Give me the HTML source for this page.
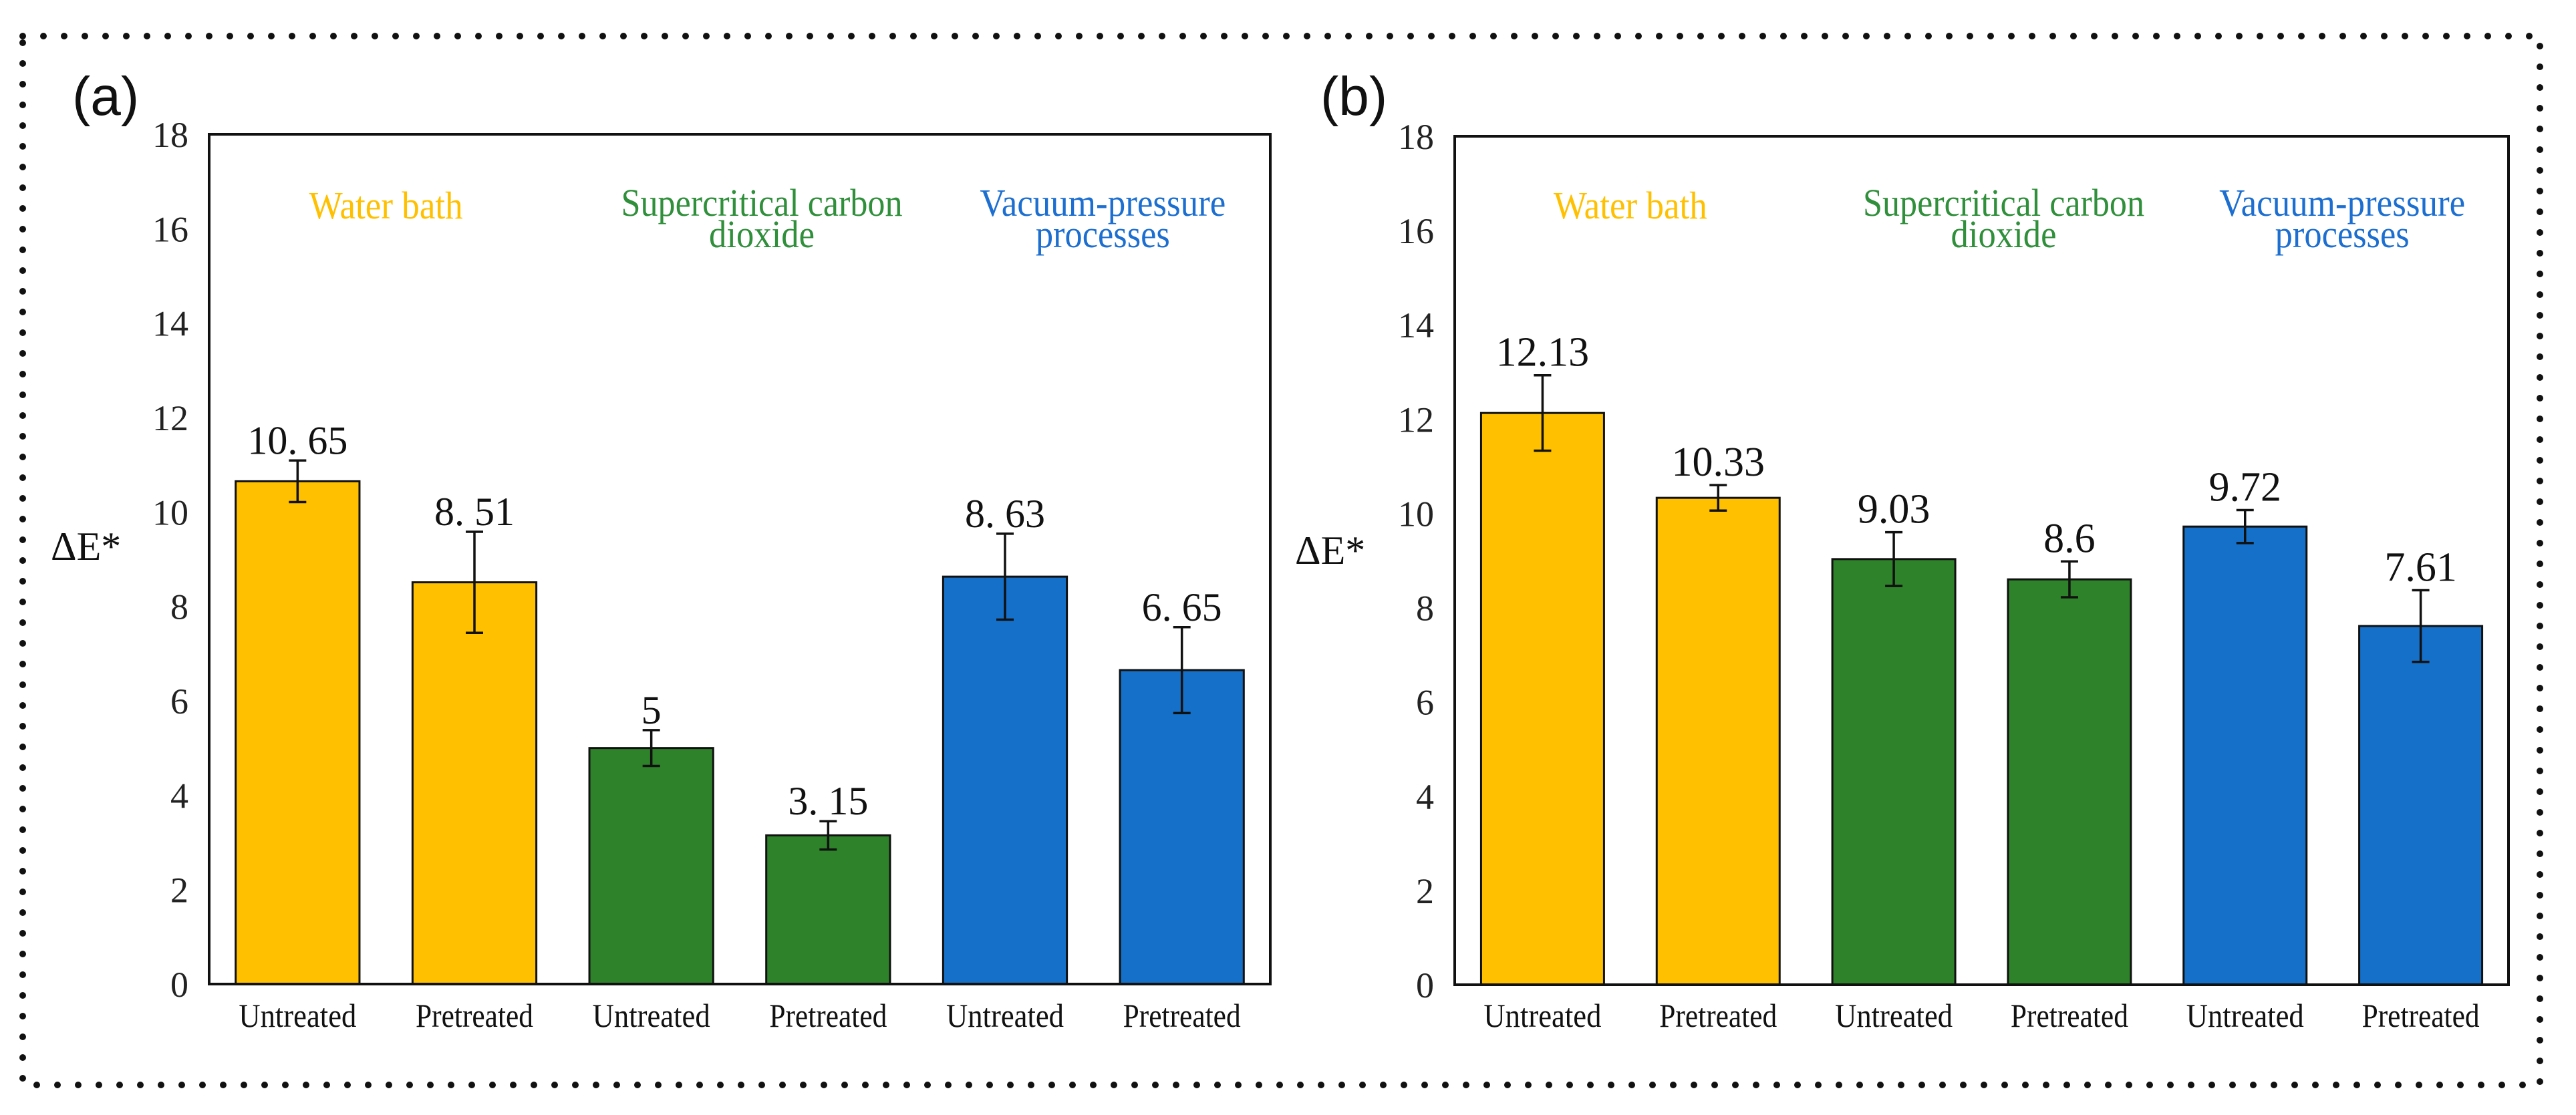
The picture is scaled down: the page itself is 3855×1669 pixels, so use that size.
<!DOCTYPE html>
<html><head><meta charset="utf-8"><style>
html,body{margin:0;padding:0;background:#fff;}
svg{display:block;font-family:"Liberation Serif",serif;}
</style></head><body>
<svg id="fig" width="3855" height="1669" viewBox="0 0 3855 1669">
<rect x="0" y="0" width="3855" height="1669" fill="#fff"/>
<rect x="34" y="54" width="3767" height="1570" fill="none" stroke="#111" stroke-width="10" stroke-linecap="round" stroke-dasharray="0 31"/>
<g id="chartA"></g>
<g id="chartB"></g>
</svg>
<script>
const categories = ["Untreated","Pretreated","Untreated","Pretreated","Untreated","Pretreated"];
const valuesA = [10.65, 8.51, 5, 3.15, 8.63, 6.65];
const errorsA = [0.44, 1.07, 0.38, 0.30, 0.91, 0.91];
const labelsA = ["10. 65","8. 51","5","3. 15","8. 63","6. 65"];
const valuesB = [12.13, 10.33, 9.03, 8.6, 9.72, 7.61];
const errorsB = [0.80, 0.27, 0.57, 0.38, 0.35, 0.76];
const labelsB = ["12.13","10.33","9.03","8.6","9.72","7.61"];
const yTicks = [0,2,4,6,8,10,12,14,16,18];
const groupNames = [["Water bath"],["Supercritical carbon","dioxide"],["Vacuum-pressure","processes"]];

const NS = "http://www.w3.org/2000/svg";
const barColors = ["#FFC000","#FFC000","#2E8229","#2E8229","#1570C9","#1570C9"];
const groupColors = ["#FFC000","#2F8F3A","#1C6FD0"];
const groupShift = [0, 33, 14];
const lineWidths = {"Water bath":230,"Supercritical carbon":421,"dioxide":158,"Vacuum-pressure":368,"processes":201};
function mk(tag, attrs, parent){const e=document.createElementNS(NS,tag);for(const k in attrs)e.setAttribute(k,attrs[k]);parent.appendChild(e);return e;}

function drawChart(g, cfg, values, errors, labels){
  const yMax = 18;
  const y = v => cfg.bottom - v*(cfg.bottom-cfg.top)/yMax;
  const catW = (cfg.right-cfg.left)/categories.length;
  const xc = i => cfg.left + catW*(i+0.5);
  const bw = catW*0.70;
  const pl = mk("text",{x:cfg.panelX,y:172,"font-size":82,"font-family":"Liberation Sans, sans-serif",fill:"#111"},g);
  pl.textContent = cfg.panel;
  
  
  const yt = mk("text",{x:cfg.yTitleX,y:cfg.yTitleY,"font-size":60,fill:"#111"},g);
  yt.textContent = "ΔE*";
  
  
  yTicks.forEach(t=>{
    const tx = mk("text",{x:cfg.tickX,y:y(t)+19,"font-size":54,"text-anchor":"end",fill:"#222"},g);
    tx.textContent = t;
    
    
  });
  values.forEach((v,i)=>{
    const r = mk("rect",{x:xc(i)-bw/2,y:y(v),width:bw,height:y(0)-y(v),fill:barColors[i],stroke:"#111","stroke-width":3},g);
    
    
    const e = errors[i];
    const eb = mk("path",{d:`M${xc(i)} ${y(v+e)}V${y(v-e)}M${xc(i)-13} ${y(v+e)}H${xc(i)+13}M${xc(i)-13} ${y(v-e)}H${xc(i)+13}`,stroke:"#111","stroke-width":3.5,fill:"none"},g);
    
    
    const vl = mk("text",{x:xc(i),y:y(v+e)-cfg.labelGap,"font-size":cfg.valFont,"text-anchor":"middle",fill:"#111"},g);
    vl.textContent = labels[i];
    
    
    const cl = mk("text",{x:xc(i),y:1537,"font-size":50,"text-anchor":"middle",textLength:176,lengthAdjust:"spacingAndGlyphs",fill:"#111"},g);
    cl.textContent = categories[i];
    
    
  });
  const fr = mk("rect",{x:cfg.left,y:cfg.top,width:cfg.right-cfg.left,height:cfg.bottom-cfg.top,fill:"none",stroke:"#111","stroke-width":4},g);
  
  
  groupNames.forEach((lines,gi)=>{
    const cx = (xc(gi*2)+xc(gi*2+1))/2 + groupShift[gi];
    lines.forEach((ln,li)=>{
      const base = lines.length===1 ? 327 : 323+li*47;
      const t = mk("text",{x:cx,y:base,"font-size":58,"text-anchor":"middle",textLength:lineWidths[ln],lengthAdjust:"spacingAndGlyphs",fill:groupColors[gi]},g);
      t.textContent = ln;
      
      
    });
  });
}
drawChart(document.getElementById("chartA"),
  {left:313,right:1901,top:201,bottom:1473,panel:"(a)",panelX:108,yTitleX:76,yTitleY:838,tickX:282,labelGap:10,valFont:60},
  valuesA, errorsA, labelsA);
drawChart(document.getElementById("chartB"),
  {left:2177,right:3754,top:204,bottom:1474,panel:"(b)",panelX:1976,yTitleX:1938,yTitleY:844,tickX:2146,labelGap:14,valFont:62},
  valuesB, errorsB, labelsB);
</script>
</body></html>
